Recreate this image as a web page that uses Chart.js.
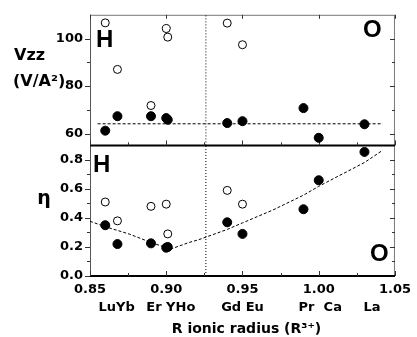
<!DOCTYPE html>
<html>
<head>
<meta charset="utf-8">
<script src="https://cdn.jsdelivr.net/npm/chart.js@4.4.0/dist/chart.umd.min.js"></script>
<style>
  html, body { margin: 0; padding: 0; background: #fff; }
</style>
</head>
<body>
<canvas id="chart" width="417" height="337"></canvas>
<script>
// ionic radius of each sample (x)
const radiusOpen   = [0.86, 0.868, 0.89, 0.90, 0.901, 0.94, 0.95];
const radiusFilled = [0.86, 0.868, 0.89, 0.90, 0.901, 0.94, 0.95, 0.99, 1.00, 1.03];

// Vzz (V/A^2) - top panel
const vzzOpen   = [106.6, 87.0, 71.8, 104.2, 100.6, 106.5, 97.4];
const vzzFilled = [61.2, 67.3, 67.3, 66.5, 65.8, 64.4, 65.2, 70.7, 58.2, 63.9];

// eta - bottom panel
const etaOpen   = [0.51, 0.38, 0.48, 0.495, 0.29, 0.59, 0.495];
const etaFilled = [0.35, 0.22, 0.225, 0.195, 0.20, 0.37, 0.29, 0.46, 0.66, 0.855];

// guide lines
const vzzLevelX = [0.855, 1.042];
const vzzLevelY = [64.1, 64.1];
const etaCurveX = [0.85, 0.86, 0.876, 0.89, 0.90, 0.903, 0.915, 0.921, 0.94, 0.95, 0.97, 0.99, 1.00, 1.03, 1.042];
const etaCurveY = [0.377, 0.34, 0.288, 0.231, 0.195, 0.186, 0.231, 0.249, 0.321, 0.366, 0.455, 0.557, 0.618, 0.782, 0.867];
const boundaryX = 0.926;

// axes
const xTicks = [0.85, 0.90, 0.95, 1.00, 1.05];
const xMinor = [0.875, 0.925, 0.975, 1.025];
const vzzTicks = [60, 80, 100];
const vzzMinor = [70, 90];
const etaTicks = [0.0, 0.2, 0.4, 0.6, 0.8];
const etaMinor = [0.1, 0.3, 0.5, 0.7];

// element names under the axis
const elementLabels = ['LuYb', 'Er YHo', 'Gd Eu', 'Pr  Ca', 'La'];
const elementX      = [0.8675, 0.903, 0.950, 1.001, 1.035];

const FONT = '"DejaVu Sans", Verdana, sans-serif';
const BIG = 'Arial, "Liberation Sans", sans-serif';
Chart.defaults.font.family = FONT;
Chart.defaults.color = '#000';

const pts = (xs, ys) => xs.map((x, i) => ({ x: x, y: ys[i] }));

function seg(ctx, x1, y1, x2, y2) {
  ctx.beginPath();
  ctx.moveTo(x1, y1);
  ctx.lineTo(x2, y2);
  ctx.stroke();
}

// box, separator and all the little tick marks
const framePlugin = {
  id: 'frame',
  beforeDatasetsDraw(chart) {
    const { ctx, chartArea: a, scales } = chart;
    const x = scales.x, yt = scales.yTop, yb = scales.yBot;
    const mid = yt.bottom;
    ctx.save();
    ctx.lineWidth = 1;
    ctx.strokeStyle = '#777';
    seg(ctx, a.left, a.top + 0.5, a.right, a.top + 0.5);
    seg(ctx, a.right - 0.5, a.top, a.right - 0.5, a.bottom);
    ctx.strokeStyle = '#555';
    seg(ctx, a.left + 0.5, a.top, a.left + 0.5, a.bottom);
    ctx.strokeStyle = '#000';
    ctx.lineWidth = 2;
    seg(ctx, a.left, mid, a.right, mid);
    seg(ctx, a.left, a.bottom, a.right, a.bottom);

    ctx.lineWidth = 1;
    ctx.strokeStyle = '#333';
    // left (outward) and right (inward) ticks
    vzzTicks.concat(vzzMinor).forEach(v => {
      const py = Math.round(yt.getPixelForValue(v)) + 0.5;
      const len = vzzTicks.includes(v) ? 5 : 3;
      seg(ctx, a.left - len, py, a.left, py);
      seg(ctx, a.right - len, py, a.right, py);
    });
    etaTicks.concat(etaMinor).forEach(v => {
      const py = Math.round(yb.getPixelForValue(v)) + 0.5;
      const len = etaTicks.includes(v) ? 5 : 3;
      seg(ctx, a.left - len, py, a.left, py);
      if (v > 0) seg(ctx, a.right - len, py, a.right, py);
    });
    // x ticks: up from separator and from bottom axis, down from top
    xTicks.concat(xMinor).forEach(v => {
      const px = Math.round(x.getPixelForValue(v)) + 0.5;
      const len = xTicks.includes(v) ? 5 : 3;
      seg(ctx, px, mid - len, px, mid);
      seg(ctx, px, a.bottom - len, px, a.bottom);
      if (xTicks.includes(v)) seg(ctx, px, a.top, px, a.top + 4);
    });
    ctx.restore();
  }
};

// labels drawn as text on the canvas
const textPlugin = {
  id: 'texts',
  afterDraw(chart) {
    const { ctx, chartArea: a, scales } = chart;
    ctx.save();
    ctx.fillStyle = '#000';
    ctx.textBaseline = 'alphabetic';

    ctx.font = 'bold 16px ' + FONT;
    ctx.textAlign = 'left';
    ctx.fillText('Vzz', 14, 60);
    ctx.fillText('(V/A\u00B2)', 13, 86);
    ctx.font = 'bold 19px ' + FONT;
    ctx.textAlign = 'center';
    ctx.fillText('\u03B7', 44, 204);

    ctx.font = 'bold 24px ' + BIG;
    ctx.textAlign = 'left';
    ctx.fillText('H', a.left + 6, 47);
    ctx.fillText('H', a.left + 3, 172);
    ctx.fillText('O', a.right - 32, 37);
    ctx.fillText('O', a.right - 25, 261);

    ctx.font = 'bold 13px ' + FONT;
    ctx.textAlign = 'center';
    elementLabels.forEach((t, i) => {
      ctx.fillText(t, scales.x.getPixelForValue(elementX[i]), 311);
    });
    ctx.font = 'bold 14px ' + FONT;
    ctx.fillText('R ionic radius (R\u00B3\u207A)', (a.left + a.right) / 2 + 4, 333);
    ctx.restore();
  }
};

const fixTicks = list => scale => { scale.ticks = list.map(v => ({ value: v })); };

const openStyle = { showLine: false, pointRadius: 4, pointBackgroundColor: '#fff',
                    pointBorderColor: '#000', pointBorderWidth: 1 };
const filledStyle = { showLine: false, pointRadius: 4.5, pointBackgroundColor: '#000',
                      pointBorderColor: '#000', pointBorderWidth: 1 };
const dashStyle = { showLine: true, pointRadius: 0, borderColor: '#000', borderWidth: 1,
                    borderDash: [3, 2], fill: false, tension: 0 };

new Chart(document.getElementById('chart'), {
  type: 'scatter',
  data: {
    datasets: [
      Object.assign({ label: 'Vzz open', data: pts(radiusOpen, vzzOpen), yAxisID: 'yTop' }, openStyle),
      Object.assign({ label: 'Vzz filled', data: pts(radiusFilled, vzzFilled), yAxisID: 'yTop' }, filledStyle),
      Object.assign({ label: 'eta open', data: pts(radiusOpen, etaOpen), yAxisID: 'yBot' }, openStyle),
      Object.assign({ label: 'eta filled', data: pts(radiusFilled, etaFilled), yAxisID: 'yBot' }, filledStyle),
      Object.assign({ label: 'Vzz level', data: pts(vzzLevelX, vzzLevelY), yAxisID: 'yTop' }, dashStyle),
      Object.assign({ label: 'eta fit', data: pts(etaCurveX, etaCurveY), yAxisID: 'yBot' }, dashStyle),
      Object.assign({ label: 'boundary top', data: pts([boundaryX, boundaryX], [55, 110]), yAxisID: 'yTop' },
                    dashStyle, { borderDash: [1, 2] }),
      Object.assign({ label: 'boundary bottom', data: pts([boundaryX, boundaryX], [0, 0.9]), yAxisID: 'yBot' },
                    dashStyle, { borderDash: [1, 2] })
    ]
  },
  options: {
    responsive: false,
    devicePixelRatio: 1,
    animation: false,
    layout: { padding: { left: 0, right: 19, top: 8, bottom: 0 } },
    plugins: { legend: { display: false }, tooltip: { enabled: false } },
    scales: {
      x: {
        type: 'linear', position: 'bottom', min: 0.85, max: 1.05,
        grid: { display: false, drawTicks: false }, border: { display: false },
        afterBuildTicks: fixTicks(xTicks),
        afterFit: s => { s.height = 61; },
        ticks: { callback: v => v.toFixed(2), font: { size: 13, weight: 'bold' }, padding: 6, maxRotation: 0 }
      },
      yBot: {
        type: 'linear', position: 'left', stack: 'panels', stackWeight: 1, min: 0, max: 0.9,
        grid: { display: false, drawTicks: false }, border: { display: false },
        afterBuildTicks: fixTicks(etaTicks),
        afterFit: s => { s.width = 90; },
        ticks: { callback: v => v.toFixed(1), font: { size: 13, weight: 'bold' }, padding: 7 }
      },
      yTop: {
        type: 'linear', position: 'left', stack: 'panels', stackWeight: 1, min: 55, max: 110,
        grid: { display: false, drawTicks: false }, border: { display: false },
        afterBuildTicks: fixTicks(vzzTicks),
        afterFit: s => { s.width = 90; },
        ticks: { font: { size: 13, weight: 'bold' }, padding: 7 }
      }
    }
  },
  plugins: [framePlugin, textPlugin]
});
</script>
</body>
</html>
